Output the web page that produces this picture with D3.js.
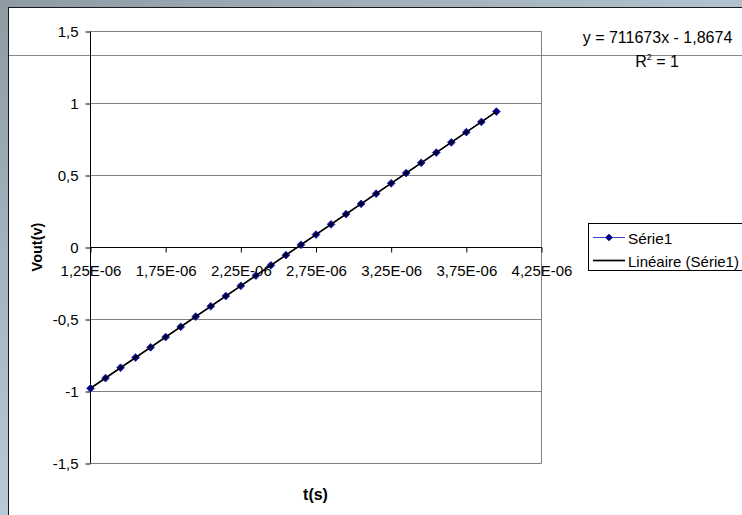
<!DOCTYPE html>
<html><head><meta charset="utf-8">
<script src="https://cdn.jsdelivr.net/npm/d3@7"></script>
<style>body{margin:0;background:#fff}svg{display:block}text{font-family:Arial,"Liberation Sans",sans-serif}</style>
</head><body><svg id="c" width="742" height="515"></svg>
<script>
const tValues = [1.25e-6,1.35e-6,1.45e-6,1.55e-6,1.65e-6,1.75e-6,1.85e-6,1.95e-6,2.05e-6,2.15e-6,2.25e-6,2.35e-6,2.45e-6,2.55e-6,2.65e-6,2.75e-6,2.85e-6,2.95e-6,3.05e-6,3.15e-6,3.25e-6,3.35e-6,3.45e-6,3.55e-6,3.65e-6,3.75e-6,3.85e-6,3.95e-6];
const voutValues = [-0.978,-0.907,-0.835,-0.764,-0.693,-0.622,-0.551,-0.480,-0.408,-0.337,-0.266,-0.195,-0.124,-0.053,0.019,0.090,0.161,0.232,0.303,0.374,0.446,0.517,0.588,0.659,0.730,0.801,0.872,0.944];
const xTicks = [1.25e-6,1.75e-6,2.25e-6,2.75e-6,3.25e-6,3.75e-6,4.25e-6];
const xTickLabels = ["1,25E-06","1,75E-06","2,25E-06","2,75E-06","3,25E-06","3,75E-06","4,25E-06"];
const yTicks = [-1.5,-1,-0.5,0,0.5,1,1.5];
const yTickLabels = ["-1,5","-1","-0,5","0","0,5","1","1,5"];
const seriesName = "Série1";
const trendName = "Linéaire (Série1)";
const equationText = "y = 711673x - 1,8674";

const FONT = "Arial,'Liberation Sans',sans-serif";
const svg = d3.select("#c");
const defs = svg.append("defs");
const gr = defs.append("linearGradient").attr("id","lb").attr("x1",0).attr("y1",0).attr("x2",0).attr("y2",1);
gr.append("stop").attr("offset","0").attr("stop-color","#8f9ba3");
gr.append("stop").attr("offset","1").attr("stop-color","#b8cad8");
const gt = defs.append("linearGradient").attr("id","tb").attr("x1",0).attr("y1",0).attr("x2",1).attr("y2",0);
gt.append("stop").attr("offset","0").attr("stop-color","#8f9ba3");
gt.append("stop").attr("offset","1").attr("stop-color","#b2c3cf");

// frame
svg.append("rect").attr("x",0).attr("y",0).attr("width",742).attr("height",7).attr("fill","url(#tb)");
svg.append("rect").attr("x",0).attr("y",0).attr("width",8).attr("height",515).attr("fill","url(#lb)");
svg.append("line").attr("x1",8).attr("x2",742).attr("y1",7.5).attr("y2",7.5).attr("stroke","#1a1a1a");
svg.append("line").attr("x1",8.5).attr("x2",8.5).attr("y1",7).attr("y2",515).attr("stroke","#1a1a1a");
svg.append("line").attr("x1",9).attr("x2",742).attr("y1",55.5).attr("y2",55.5).attr("stroke","#888");

const L = 90.5, R = 541.5, T = 31.5, B = 463.5;
const x = d3.scaleLinear().domain([1.25e-6,4.25e-6]).range([L,R]);
const y = d3.scaleLinear().domain([-1.5,1.5]).range([B,T]);

// gridlines
svg.append("g").selectAll("line").data(yTicks).join("line")
  .attr("x1",L).attr("x2",R).attr("y1",d=>y(d)).attr("y2",d=>y(d))
  .attr("stroke","#808080").attr("stroke-width",1);
svg.append("line").attr("x1",R).attr("x2",R).attr("y1",T).attr("y2",B).attr("stroke","#808080");

// y axis
const yAxis = d3.axisLeft(y).tickValues(yTicks).tickSize(5).tickPadding(7)
  .tickFormat((d,i)=>yTickLabels[i]);
const ya = svg.append("g").attr("transform",`translate(${L},0)`).call(yAxis);
ya.select(".domain").attr("stroke","#000").attr("d",`M0,${T}V${B}`);
ya.selectAll(".tick line").attr("stroke","#000");
ya.selectAll("text").style("font-size","15px").style("font-family",FONT).attr("fill","#000");

// x axis at y=0
const xAxis = d3.axisBottom(x).tickValues(xTicks).tickSize(5).tickPadding(13)
  .tickFormat((d,i)=>xTickLabels[i]);
const xa = svg.append("g").attr("transform",`translate(0,${y(0)})`).call(xAxis);
xa.select(".domain").attr("stroke","#000").attr("d",`M${L},0H${R}`);
xa.selectAll(".tick line").attr("stroke","#000");
xa.selectAll("text").style("font-size","15px").style("font-family",FONT).attr("fill","#000");

// series line
const pts = tValues.map((t,i)=>[t,voutValues[i]]);
svg.append("path").datum(pts).attr("fill","none").attr("stroke","#000080").attr("stroke-width",1)
  .attr("d",d3.line().x(d=>x(d[0])).y(d=>y(d[1])));

// markers (diamond = rotated square)
const diamond = d3.symbol().type(d3.symbolSquare).size(30);
svg.append("g").selectAll("path").data(pts).join("path")
  .attr("transform",d=>`translate(${x(d[0])},${y(d[1])}) rotate(45)`)
  .attr("d",diamond).attr("fill","#000080").attr("stroke","#2020a8").attr("stroke-width",0.8);

// linear trendline (least squares on data)
const mx = d3.mean(tValues), my = d3.mean(voutValues);
const slope = d3.sum(pts,d=>(d[0]-mx)*(d[1]-my))/d3.sum(pts,d=>(d[0]-mx)**2);
const icpt = my - slope*mx;
const tx = d3.extent(tValues);
svg.append("line").attr("x1",x(tx[0])).attr("x2",x(tx[1]))
  .attr("y1",y(slope*tx[0]+icpt)).attr("y2",y(slope*tx[1]+icpt))
  .attr("stroke","#000").attr("stroke-width",1.7);

// axis titles
svg.append("text").attr("x",315.5).attr("y",500).attr("text-anchor","middle")
  .style("font-size","16px").attr("font-weight","bold").text("t(s)");
svg.append("text").attr("transform","translate(42,247) rotate(-90)").attr("text-anchor","middle")
  .style("font-size","14.5px").attr("font-weight","bold").text("Vout(v)");

// equation
svg.append("text").attr("x",657.5).attr("y",43).attr("text-anchor","middle").style("font-size","16px").text(equationText);
const r2 = svg.append("text").attr("x",657).attr("y",67).attr("text-anchor","middle").style("font-size","16px");
r2.append("tspan").text("R");
r2.append("tspan").style("font-size","9px").attr("dy",-7).text("2");
r2.append("tspan").attr("dy",7).text(" = 1");

// legend
svg.append("rect").attr("x",588.5).attr("y",223.5).attr("width",170).attr("height",47)
  .attr("fill","#fff").attr("stroke","#000");
svg.append("line").attr("x1",593).attr("x2",625).attr("y1",237.5).attr("y2",237.5).attr("stroke","#4040c0");
svg.append("path").attr("transform","translate(609,237.5) rotate(45)").attr("d",diamond).attr("fill","#000080");
svg.append("text").attr("x",628).attr("y",243.5).style("font-size","15.3px").text(seriesName);
svg.append("line").attr("x1",593).attr("x2",625).attr("y1",260.5).attr("y2",260.5).attr("stroke","#000").attr("stroke-width",1.7);
svg.append("text").attr("x",628).attr("y",266.5).style("font-size","15px").attr("textLength",null).text(trendName);
</script></body></html>
